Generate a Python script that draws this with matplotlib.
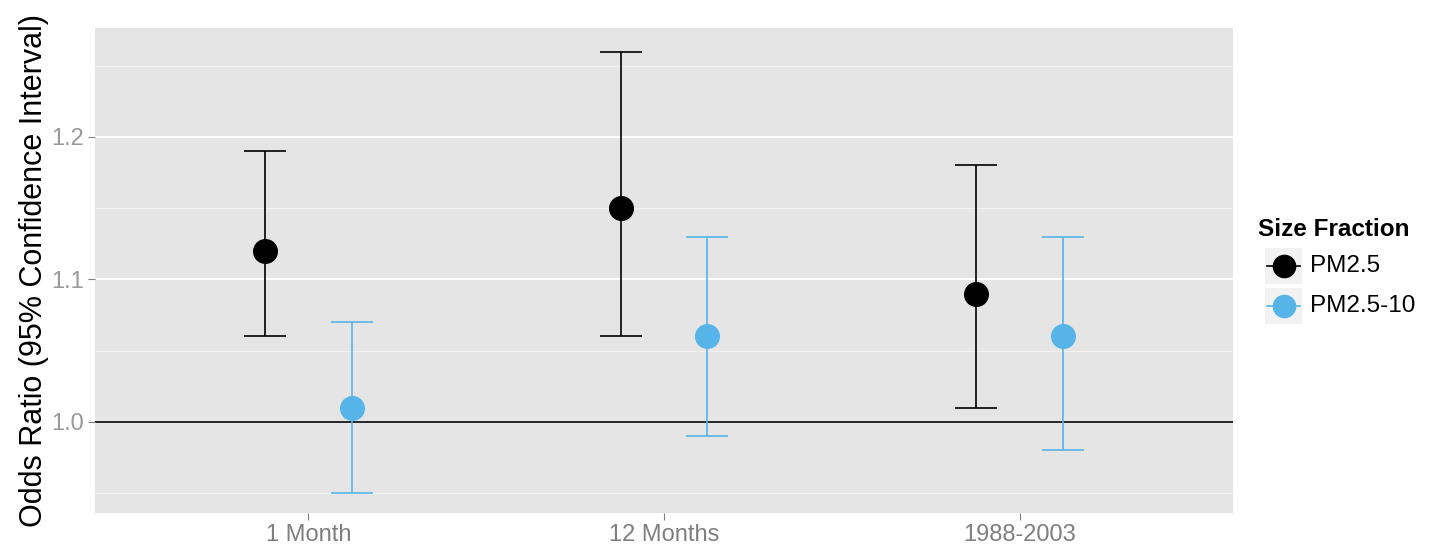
import matplotlib
matplotlib.use("Agg")
import matplotlib.pyplot as plt
import numpy as np
from matplotlib.patches import Rectangle
from matplotlib.lines import Line2D

# data
periods = ["1 Month", "12 Months", "1988-2003"]
fractions = ["PM2.5", "PM2.5-10"]
colors = ["#000000", "#56B4E9"]
or_pm25 = [1.12, 1.15, 1.09]
lo_pm25 = [1.06, 1.06, 1.01]
hi_pm25 = [1.19, 1.26, 1.18]
or_pm10 = [1.01, 1.06, 1.06]
lo_pm10 = [0.95, 0.99, 0.98]
hi_pm10 = [1.07, 1.13, 1.13]

plt.rcParams['font.family'] = ['Liberation Sans', 'DejaVu Sans']

fig = plt.figure(figsize=(14.35, 5.5), dpi=100)
ax = fig.add_axes([95 / 1435, 37 / 550, 1138 / 1435, 485 / 550])
ax.set_facecolor("#E5E5E5")
for s in ax.spines.values():
    s.set_visible(False)

# grid
for y in [0.95, 1.05, 1.15, 1.25]:
    ax.axhline(y, color="#F2F2F2", lw=1.0, zorder=0)
for y in [1.0, 1.1, 1.2]:
    ax.axhline(y, color="white", lw=1.6, zorder=0)
ax.axhline(1.0, color="black", lw=1.2, zorder=1)

x = np.arange(1, len(periods) + 1)
dodge = 0.122
series = [(or_pm25, lo_pm25, hi_pm25), (or_pm10, lo_pm10, hi_pm10)]
for i, (est, lo, hi) in enumerate(series):
    est = np.array(est)
    xe = x + (i - 0.5) * 2 * dodge
    yerr = [est - np.array(lo), np.array(hi) - est]
    ax.errorbar(xe, est, yerr=yerr, fmt='none', ecolor=colors[i],
                elinewidth=1.2, capsize=15, capthick=1.2, zorder=2)
    ax.plot(xe, est, 'o', color=colors[i], ms=17, zorder=3)

ax.set_xlim(0.4, 3.6)
ax.set_ylim(0.936, 1.2765)
ax.set_xticks(x)
ax.set_xticklabels(periods)
ax.set_yticks([1.0, 1.1, 1.2])
ax.set_yticklabels(["1.0", "1.1", "1.2"])
ax.tick_params(colors="#7F7F7F", labelsize=17, length=5, width=0.8, pad=3)
ax.tick_params(axis='y', labelcolor="#999999")
ax.tick_params(axis='x', labelcolor="#7F7F7F")
ax.set_ylabel("Odds Ratio (95% Confidence Interval)", fontsize=22)
ax.yaxis.set_label_coords(-0.040, 0.5)

# legend
fig.text(1258 / 1435, 1 - 229 / 550, "Size Fraction", fontsize=17.5,
         fontweight='bold', va='center', ha='left')
for i, lab in enumerate(fractions):
    yc = 1 - (266 + i * 40) / 550
    fig.add_artist(Rectangle((1265 / 1435, yc - 18 / 550), 37 / 1435, 36 / 550,
                             transform=fig.transFigure, facecolor="#F2F2F2",
                             edgecolor="none"))
    fig.add_artist(Line2D([1267 / 1435, 1300 / 1435], [yc, yc], transform=fig.transFigure,
                          color=colors[i], lw=1.2))
    fig.add_artist(Line2D([1283.5 / 1435], [yc], transform=fig.transFigure,
                          marker='o', ms=16, color=colors[i]))
    fig.text(1310 / 1435, yc, lab, fontsize=17.5, va='center', ha='left')

fig.savefig("out.png", dpi=100)
